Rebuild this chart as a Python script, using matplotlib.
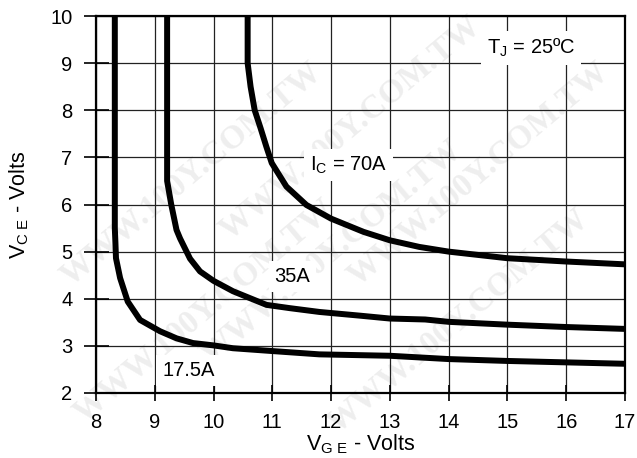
import matplotlib
matplotlib.use("Agg")
import matplotlib.pyplot as plt

plt.rcParams['font.family'] = ['Liberation Sans', 'DejaVu Sans']
plt.rcParams['mathtext.fontset'] = 'custom'
plt.rcParams['mathtext.rm'] = 'Liberation Sans'
plt.rcParams['mathtext.it'] = 'Liberation Sans'

# Data (VGE in volts, VCE in volts)
vge_17 = [8.32, 8.32, 8.33, 8.34, 8.41, 8.54, 8.75, 9.09, 9.37, 9.65, 10.0, 10.33, 11.0, 11.8, 13.0, 14.0, 15.0, 16.0, 17.0]
vce_17 = [10.0, 5.5, 5.2, 4.86, 4.44, 3.94, 3.55, 3.31, 3.16, 3.06, 3.01, 2.95, 2.89, 2.82, 2.79, 2.72, 2.68, 2.65, 2.62]

vge_35 = [9.21, 9.21, 9.28, 9.37, 9.43, 9.6, 9.77, 10.0, 10.33, 10.9, 11.3, 11.8, 12.5, 13.0, 13.6, 14.0, 15.0, 16.0, 17.0]
vce_35 = [10.0, 6.5, 6.0, 5.46, 5.28, 4.85, 4.58, 4.38, 4.16, 3.87, 3.80, 3.72, 3.64, 3.58, 3.56, 3.51, 3.45, 3.40, 3.36]

vge_70 = [10.58, 10.58, 10.63, 10.70, 10.80, 10.90, 10.99, 11.24, 11.58, 12.0, 12.55, 13.0, 13.5, 14.0, 15.0, 16.0, 17.0]
vce_70 = [10.0, 9.0, 8.5, 8.0, 7.62, 7.22, 6.88, 6.38, 5.99, 5.70, 5.42, 5.24, 5.10, 5.0, 4.86, 4.79, 4.73]

xticks = [8, 9, 10, 11, 12, 13, 14, 15, 16, 17]
yticks = [2, 3, 4, 5, 6, 7, 8, 9, 10]

fig = plt.figure(figsize=(6.37, 4.58), dpi=100)
ax = fig.add_axes([96/637, 1-393/458, (625-96)/637, (393-16)/458])
ax.set_facecolor('none')

# faint watermark
wm = "WWW.100Y.COM.TW"
for (fx, fy) in [(0.30, 0.62), (0.52, 0.45), (0.72, 0.30), (0.55, 0.72), (0.32, 0.32), (0.75, 0.62)]:
    fig.text(fx, fy, wm, rotation=40, fontsize=24, fontweight='bold', family='Liberation Serif',
             color='#eeeeee', zorder=-10, ha='center', va='center', rotation_mode='anchor')

for xs, ys in [(vge_17, vce_17), (vge_35, vce_35), (vge_70, vce_70)]:
    ax.plot(xs, ys, color='black', lw=4.3, solid_capstyle='butt', solid_joinstyle='round', zorder=3)

ax.set_xlim(8, 17)
ax.set_ylim(2, 10)
ax.set_xticks(xticks)
ax.set_yticks(yticks)
ax.grid(True, color='#222222', lw=0.9, zorder=1)
ax.set_axisbelow(True)
for s in ax.spines.values():
    s.set_linewidth(1.6)
    s.set_color('black')
ax.tick_params(axis='x', direction='inout', length=12, width=1.2, labelsize=14.5, colors='black', pad=8.5)
ax.tick_params(axis='y', direction='inout', length=18, width=1.2, labelsize=14.5, colors='black', pad=8)

ax.set_xlabel(r'V$_{\mathregular{G\ E}}$ - Volts', fontsize=15.5)
ax.xaxis.set_label_coords(0.5, -0.1045)
ax.set_ylabel(r'V$_{\mathregular{C\ E}}$ - Volts', fontsize=15.5, labelpad=14)

bbox = dict(facecolor='white', edgecolor='none', pad=4)
ax.text(15.40, 9.32, r'T$_{\mathregular{J}}$ = 25ºC', fontsize=14.5, ha='center', va='center', bbox=bbox, zorder=2)
ax.text(12.30, 6.84, r'I$_{\mathregular{C}}$ = 70A', fontsize=14.5, ha='center', va='center', bbox=bbox, zorder=2)
ax.text(11.34, 4.47, '35A', fontsize=14.5, ha='center', va='center', bbox=bbox, zorder=2)
ax.text(9.57, 2.48, '17.5A', fontsize=14.5, ha='center', va='center', bbox=bbox, zorder=2)

fig.savefig('out.png', dpi=100)
